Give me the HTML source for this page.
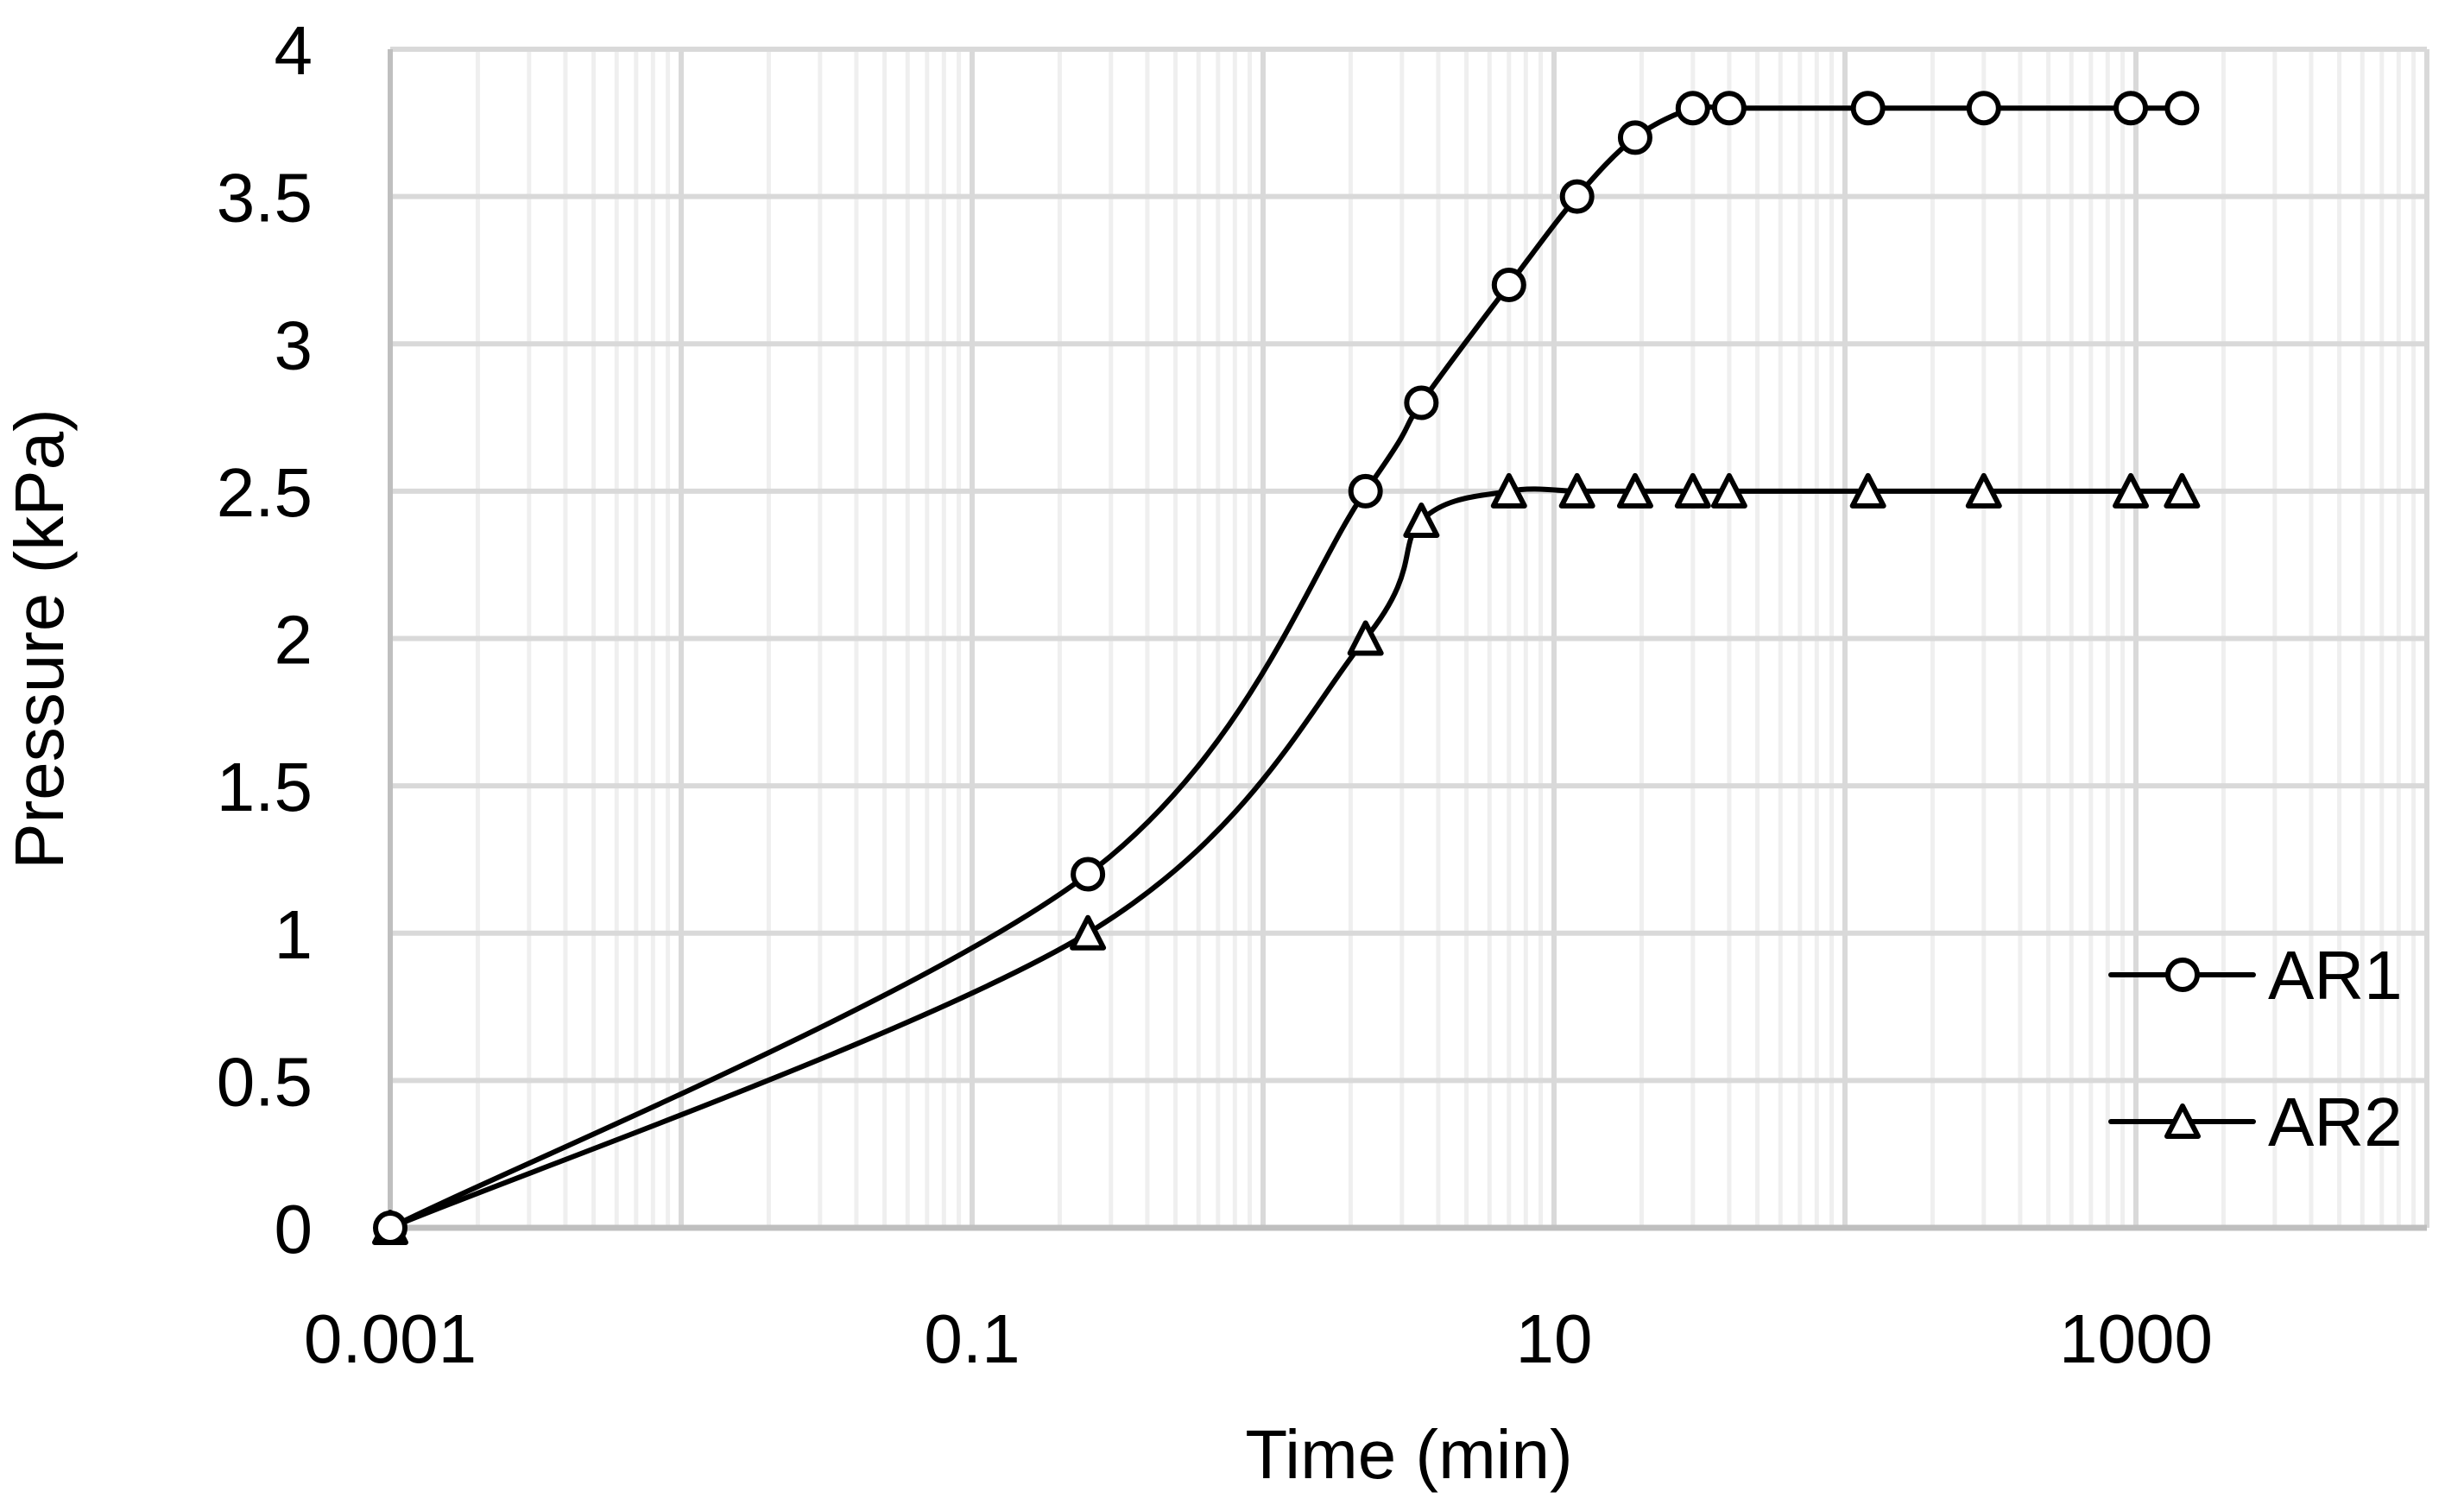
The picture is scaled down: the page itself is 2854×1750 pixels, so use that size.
<!DOCTYPE html>
<html><head><meta charset="utf-8"><style>
html,body{margin:0;padding:0;background:#fff;}
svg{display:block;font-family:"Liberation Sans",sans-serif;}
</style></head><body>
<svg id="chart" width="2854" height="1750" viewBox="0 0 2854 1750">
<g id="grid"></g>
<g id="axes"></g>
<g id="series"></g>
<text x="73" y="740" font-size="80" text-anchor="middle" transform="rotate(-90 73 740)">Pressure (kPa)</text>
<text x="1632" y="1712" font-size="80" text-anchor="middle">Time (min)</text>
<g>
 <g>
  <line x1="2445" y1="1129" x2="2610" y2="1129" stroke="#000" stroke-width="6" stroke-linecap="round"/>
  <circle cx="2528" cy="1129" r="17" fill="#fff" stroke="#000" stroke-width="6"/>
  <text x="2627" y="1157" font-size="80">AR1</text>
 </g>
 <g>
  <line x1="2445" y1="1299" x2="2610" y2="1299" stroke="#000" stroke-width="6" stroke-linecap="round"/>
  <polygon points="2528,1281 2546,1316 2510,1316" fill="#fff" stroke="#000" stroke-width="6" stroke-linejoin="round"/>
  <text x="2627" y="1327" font-size="80">AR2</text>
 </g>
</g>
</svg>
<script>
const times = [0.001, 0.25, 2.25, 3.5, 7, 12, 19, 30, 40, 120, 300, 960, 1440];
const ar1 = [0, 1.2, 2.5, 2.8, 3.2, 3.5, 3.7, 3.8, 3.8, 3.8, 3.8, 3.8, 3.8];
const ar2 = [0, 1, 2, 2.4, 2.5, 2.5, 2.5, 2.5, 2.5, 2.5, 2.5, 2.5, 2.5];
const yTicks = [0, 0.5, 1, 1.5, 2, 2.5, 3, 3.5, 4];
const yTickLabels = ["0", "0.5", "1", "1.5", "2", "2.5", "3", "3.5", "4"];
const xTicks = [0.001, 0.1, 10, 1000];
const xTickLabels = ["0.001", "0.1", "10", "1000"];

const L = 452, R = 2811, T = 57, B = 1422;
const xMinLog = -3, xMaxLog = 4;
function xs(v){ return L + (Math.log10(v) - xMinLog) / (xMaxLog - xMinLog) * (R - L); }
function ys(v){ return B - v / 4 * (B - T); }
const NS = "http://www.w3.org/2000/svg";
function mk(tag, attrs, parent){
  const e = document.createElementNS(NS, tag);
  for (const k in attrs) e.setAttribute(k, attrs[k]);
  parent.appendChild(e);
  return e;
}
const grid = document.getElementById('grid');
const axes = document.getElementById('axes');
const series = document.getElementById('series');

for (let d = xMinLog; d < xMaxLog; d++) {
  for (let m = 2; m <= 9; m++) {
    const x = xs(m * Math.pow(10, d));
    const l = mk('line', {x1:x, y1:T, x2:x, y2:B, stroke:'#efefef', 'stroke-width':5}, grid);
    
    
  }
}
for (let d = xMinLog + 1; d <= xMaxLog; d++) {
  const x = xs(Math.pow(10, d));
  const l = mk('line', {x1:x, y1:T, x2:x, y2:B, stroke:'#d9d9d9', 'stroke-width':6}, grid);
  
  
}
yTicks.forEach((v, i) => {
  const y = ys(v);
  if (v > 0) {
    const l = mk('line', {x1:L, y1:y, x2:R, y2:y, stroke:'#d9d9d9', 'stroke-width':6}, grid);
    
    
  }
  const t = mk('text', {x:362, y:y + 29, 'font-size':80, 'text-anchor':'end'}, axes);
  t.textContent = yTickLabels[i];
  
  
});
xTicks.forEach((v, i) => {
  const t = mk('text', {x:xs(v), y:1578, 'font-size':80, 'text-anchor':'middle'}, axes);
  t.textContent = xTickLabels[i];
  
  
});
const ya = mk('line', {x1:L, y1:T, x2:L, y2:B, stroke:'#bfbfbf', 'stroke-width':6}, axes);


const xa = mk('line', {x1:L - 3, y1:B, x2:R, y2:B, stroke:'#bfbfbf', 'stroke-width':7}, axes);



function smoothPath(pts){
  let d = 'M' + pts[0][0] + ',' + pts[0][1];
  for (let i = 0; i < pts.length - 1; i++) {
    const p0 = pts[Math.max(0, i - 1)], p1 = pts[i], p2 = pts[i + 1], p3 = pts[Math.min(pts.length - 1, i + 2)];
    const c1 = [p1[0] + (p2[0] - p0[0]) / 6, p1[1] + (p2[1] - p0[1]) / 6];
    const c2 = [p2[0] - (p3[0] - p1[0]) / 6, p2[1] - (p3[1] - p1[1]) / 6];
    d += ' C' + c1[0] + ',' + c1[1] + ' ' + c2[0] + ',' + c2[1] + ' ' + p2[0] + ',' + p2[1];
  }
  return d;
}
function drawSeries(vals, name, shape){
  const g = mk('g', {}, series);
  
  
  const pts = times.map((t, i) => [xs(t), ys(vals[i])]);
  const p = mk('path', {d:smoothPath(pts), fill:'none', stroke:'#000', 'stroke-width':6, 'stroke-linejoin':'round'}, g);
  
  
  pts.forEach(([x, y]) => {
    let m;
    if (shape === 'circle') {
      m = mk('circle', {cx:x, cy:y, r:17, fill:'#fff', stroke:'#000', 'stroke-width':6}, g);
    } else {
      m = mk('polygon', {points:x + ',' + (y - 18) + ' ' + (x + 18) + ',' + (y + 17) + ' ' + (x - 18) + ',' + (y + 17), fill:'#fff', stroke:'#000', 'stroke-width':6, 'stroke-linejoin':'round'}, g);
    }
    
    
  });
}
drawSeries(ar2, 'series-ar2', 'triangle');
drawSeries(ar1, 'series-ar1', 'circle');
</script>
</body></html>
